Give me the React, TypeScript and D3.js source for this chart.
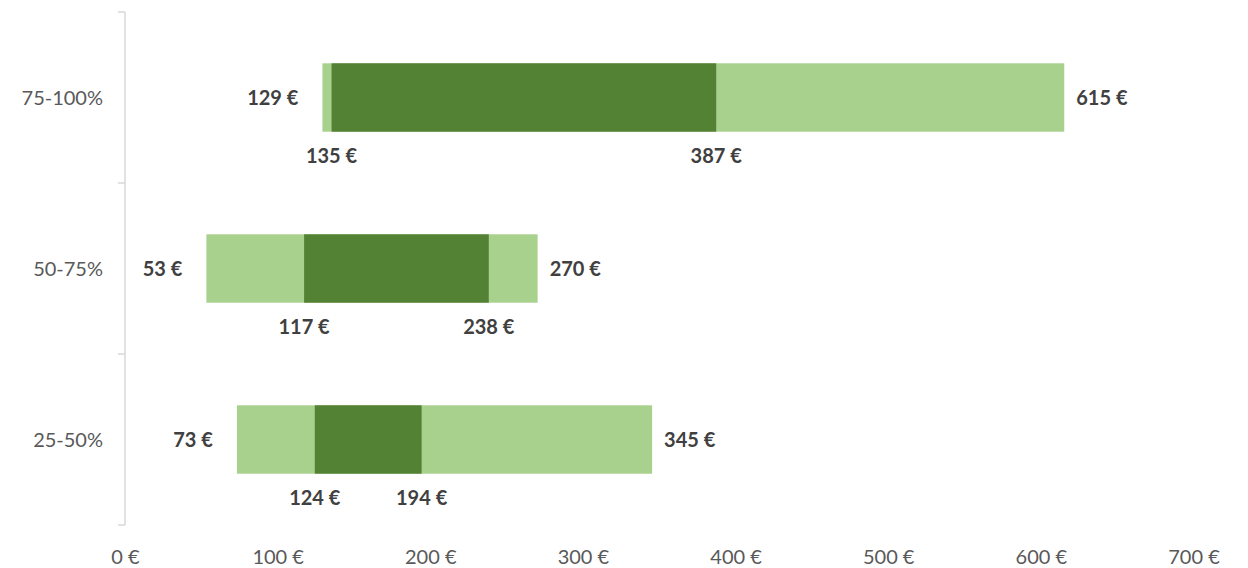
import * as d3 from "d3";
import { useRef, useEffect } from "react";

const categories = ["75-100%", "50-75%", "25-50%"];
const minValues = [129, 53, 73];
const q1Values = [135, 117, 124];
const q3Values = [387, 238, 194];
const maxValues = [615, 270, 345];
const xTicks = [0, 100, 200, 300, 400, 500, 600, 700];

const LIGHT = "#A9D18E";
const DARK = "#548235";
const FONT = "Lato, 'Open Sans', sans-serif";

export default function App() {
  const ref = useRef(null);

  useEffect(() => {
    const width = 1248;
    const height = 568;
    const svg = d3.select(ref.current).attr("width", width).attr("height", height);
    svg.selectAll("*").remove();

    const x = d3.scaleLinear().domain([0, 700]).range([125.5, 1194]);
    const y = d3
      .scaleBand()
      .domain(categories)
      .range([12, 525])
      .paddingInner(0.6)
      .paddingOuter(0.3);
    const step = y.step();

    const rows = categories.map((c, i) => ({
      cat: c,
      min: minValues[i],
      q1: q1Values[i],
      q3: q3Values[i],
      max: maxValues[i],
    }));

    // category axis
    const axis = svg.append("g");
    axis
      .append("line")
      .attr("x1", 125)
      .attr("x2", 125)
      .attr("y1", 12)
      .attr("y2", 525)
      .attr("stroke", "#d9d9d9")
      .attr("stroke-width", 1.5);
    const bounds = d3.range(categories.length + 1).map((i) => 12 + i * step);
    axis
      .selectAll("line.tick")
      .data(bounds)
      .enter()
      .append("line")
      .attr("class", "tick")
      .attr("x1", 118)
      .attr("x2", 125)
      .attr("y1", (d) => d)
      .attr("y2", (d) => d)
      .attr("stroke", "#d9d9d9")
      .attr("stroke-width", 1.5);
    axis
      .selectAll("text")
      .data(categories)
      .enter()
      .append("text")
      .attr("x", 103)
      .attr("y", (d) => y(d) + y.bandwidth() / 2)
      .attr("dy", "0.35em")
      .attr("text-anchor", "end")
      .attr("font-family", FONT)
      .attr("font-size", 20)
      .attr("fill", "#595959")
      .text((d) => d);

    // x tick labels
    svg
      .append("g")
      .selectAll("text")
      .data(xTicks)
      .enter()
      .append("text")
      .attr("x", (d) => x(d))
      .attr("y", 564)
      .attr("text-anchor", "middle")
      .attr("font-family", FONT)
      .attr("font-size", 20)
      .attr("fill", "#595959")
      .text((d) => d + " €");

    const g = svg.append("g");
    const bh = y.bandwidth();

    // light full range bars
    g.selectAll("rect.range")
      .data(rows)
      .enter()
      .append("rect")
      .attr("x", (d) => x(d.min))
      .attr("y", (d) => y(d.cat))
      .attr("width", (d) => x(d.max) - x(d.min))
      .attr("height", bh)
      .attr("fill", LIGHT);

    // dark interquartile bars
    g.selectAll("rect.iqr")
      .data(rows)
      .enter()
      .append("rect")
      .attr("x", (d) => x(d.q1))
      .attr("y", (d) => y(d.cat))
      .attr("width", (d) => x(d.q3) - x(d.q1))
      .attr("height", bh)
      .attr("fill", DARK);

    const label = (sel) =>
      sel
        .attr("font-family", FONT)
        .attr("font-size", 20)
        .attr("font-weight", "bold")
        .attr("fill", "#404040");

    // min labels (left of bar)
    g.selectAll("text.min")
      .data(rows)
      .enter()
      .append("text")
      .attr("x", (d) => x(d.min) - 24)
      .attr("y", (d) => y(d.cat) + bh / 2)
      .attr("dy", "0.35em")
      .attr("text-anchor", "end")
      .call(label)
      .text((d) => d.min + " €");

    // max labels (right of bar)
    g.selectAll("text.max")
      .data(rows)
      .enter()
      .append("text")
      .attr("x", (d) => x(d.max) + 12)
      .attr("y", (d) => y(d.cat) + bh / 2)
      .attr("dy", "0.35em")
      .attr("text-anchor", "start")
      .call(label)
      .text((d) => d.max + " €");

    // quartile labels (below bar)
    ["q1", "q3"].forEach((k) => {
      g.selectAll("text." + k)
        .data(rows)
        .enter()
        .append("text")
        .attr("x", (d) => x(d[k]))
        .attr("y", (d) => y(d.cat) + bh + 24)
        .attr("dy", "0.35em")
        .attr("text-anchor", "middle")
        .call(label)
        .text((d) => d[k] + " €");
    });
  }, []);

  return (
    <div style={{ position: "absolute", left: 0, top: 0, background: "#fff" }}>
      <svg ref={ref}></svg>
    </div>
  );
}
